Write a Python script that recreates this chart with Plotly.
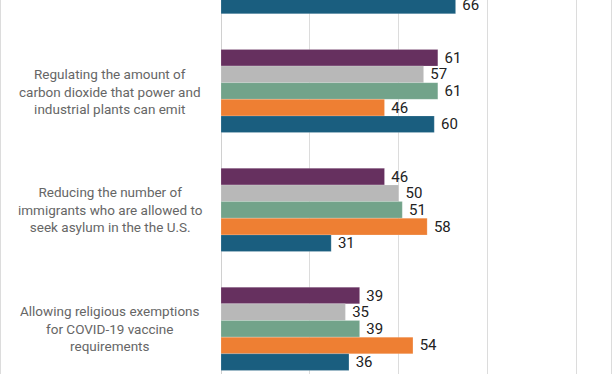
import plotly.graph_objects as go

# Categories, top to bottom (first group is only partly visible at the top edge)
categories = [
    "top_group",
    "Regulating the amount of<br>carbon dioxide that power and<br>industrial plants can emit",
    "Reducing the number of<br>immigrants who are allowed to<br>seek asylum in the the U.S.",
    "Allowing religious exemptions<br>for COVID-19 vaccine<br>requirements",
]
category_labels = [
    "",
    "Regulating the amount of<br>carbon dioxide that power and<br>industrial plants can emit",
    "Reducing the number of<br>immigrants who are allowed to<br>seek asylum in the the U.S.",
    "Allowing religious exemptions<br>for COVID-19 vaccine<br>requirements",
]

series_names = ["Series 1", "Series 2", "Series 3", "Series 4", "Series 5"]
series_colors = ["#66305f", "#b8b8b8", "#72a38a", "#ee7f33", "#1a5e7f"]

s1 = [None, 61, 46, 39]
s2 = [None, 57, 50, 35]
s3 = [None, 61, 51, 39]
s4 = [None, 46, 58, 54]
s5 = [66, 60, 31, 36]
series_values = [s1, s2, s3, s4, s5]

x_ticks = [0, 25, 50, 75, 100]

fig = go.Figure()
for name, color, vals in zip(series_names, series_colors, series_values):
    fig.add_trace(go.Bar(
        y=categories,
        x=vals,
        name=name,
        orientation="h",
        marker=dict(color=color, line=dict(color="rgba(255,255,255,0.35)", width=0.5)),
        text=vals,
        texttemplate=" %{x}",
        textposition="outside",
        constraintext="none",
        cliponaxis=False,
        textfont=dict(family="Roboto", size=15, color="#222222"),
        hoverinfo="skip",
    ))

for cat, lab in zip(categories, category_labels):
    if lab:
        fig.add_annotation(
            x=(110 - 221) / 391, xref="paper",
            y=cat, yref="y",
            text=lab, showarrow=False,
            xanchor="center", yanchor="middle", align="center",
            font=dict(family="Roboto", size=13.5, color="#666666"),
        )

# frame lines at left and right edges of the figure
fig.add_shape(type="line", xref="paper", yref="paper",
              x0=(0.5 - 221) / 391, x1=(0.5 - 221) / 391, y0=0, y1=1,
              line=dict(color="#dcdcdc", width=1))
fig.add_shape(type="line", xref="paper", yref="paper",
              x0=(611.5 - 221) / 391, x1=(611.5 - 221) / 391, y0=0, y1=1,
              line=dict(color="#dcdcdc", width=1))

fig.update_layout(
    width=612, height=374,
    margin=dict(l=221, r=0, t=0, b=0),
    paper_bgcolor="white", plot_bgcolor="white",
    barmode="group", bargap=0.30, bargroupgap=0,
    showlegend=False,
    xaxis=dict(range=[0, 110], tickvals=x_ticks, showticklabels=False,
               showgrid=True, gridcolor="#dcdcdc", gridwidth=1,
               zeroline=True, zerolinecolor="#d0d0d0", zerolinewidth=1,
               showline=False, fixedrange=True),
    yaxis=dict(type="category", categoryorder="array", categoryarray=categories,
               range=[3.380, 0.2347], showticklabels=False, showgrid=False,
               zeroline=False, showline=False, fixedrange=True),
    font=dict(family="Roboto"),
)

fig.write_html("out.html", config={"displayModeBar": False},
               post_script="document.body.style.margin='0';document.body.style.overflow='hidden';")
